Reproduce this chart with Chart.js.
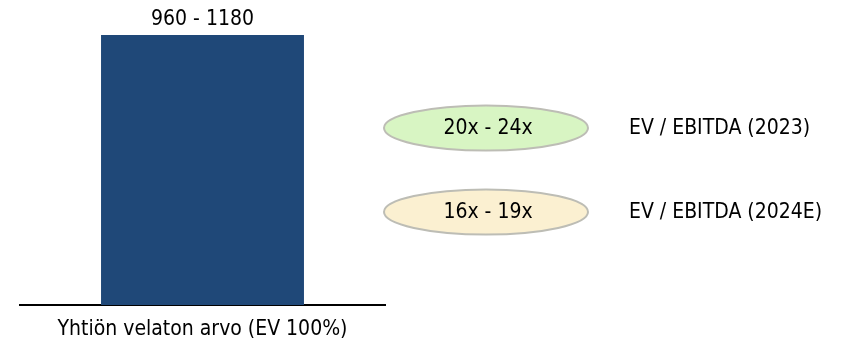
<!DOCTYPE html>
<html>
<head>
<meta charset="utf-8">
<script src="https://cdn.jsdelivr.net/npm/chart.js@4/dist/chart.umd.min.js"></script>
<style>
  html, body { margin: 0; padding: 0; background: #fff; }
  #wrap { width: 845px; height: 339px; position: relative; }
</style>
</head>
<body>
<div id="wrap"><canvas id="evChart"></canvas></div>
<script>
// ---- data ----
const categories = ['Yhtiön velaton arvo (EV 100%)'];
const evValues = [1180];
const evRangeLabels = ['960 - 1180'];

const multipleLabels = ['20x - 24x', '16x - 19x'];
const multipleNames = ['EV / EBITDA (2023)', 'EV / EBITDA (2024E)'];
const multipleColors = ['#d8f5c3', '#fbf0d1'];

const FONT = '"DejaVu Sans Condensed", "DejaVu Sans", Verdana, sans-serif';
const FONT_SIZE = 21;

// value label on top of the bar + the multiple ellipses on the right
const overlayPlugin = {
    id: 'overlay',
    afterDatasetsDraw(chart) {
        const ctx = chart.ctx;
        const area = chart.chartArea;
        const meta = chart.getDatasetMeta(0);

        ctx.save();
        ctx.fillStyle = '#000';
        ctx.font = FONT_SIZE + 'px ' + FONT;
        ctx.textAlign = 'center';
        ctx.textBaseline = 'middle';
        meta.data.forEach((bar, i) => {
            ctx.fillText(evRangeLabels[i], bar.x, bar.y - 15);
        });

        // ellipses
        const cx = area.right + 101;
        const rows = [area.top + 93, area.top + 177];
        multipleLabels.forEach((txt, i) => {
            const cy = rows[i];
            ctx.beginPath();
            ctx.ellipse(cx, cy, 102, 22.5, 0, 0, Math.PI * 2);
            ctx.fillStyle = multipleColors[i];
            ctx.fill();
            ctx.lineWidth = 2;
            ctx.strokeStyle = '#bdbdb5';
            ctx.stroke();

            ctx.fillStyle = '#000';
            ctx.textAlign = 'center';
            ctx.textBaseline = 'middle';
            ctx.fillText(txt, cx + 2, cy + 1);

            ctx.textAlign = 'left';
            ctx.fillText(multipleNames[i], area.right + 244, cy + 1);
        });
        ctx.restore();
    }
};

const ctx = document.getElementById('evChart').getContext('2d');
new Chart(ctx, {
    type: 'bar',
    data: {
        labels: categories,
        datasets: [{
            data: evValues,
            backgroundColor: '#1f4878',
            borderWidth: 0,
            barPercentage: 0.556,
            categoryPercentage: 1.0
        }]
    },
    options: {
        responsive: true,
        maintainAspectRatio: false,
        animation: false,
        layout: {
            padding: { left: 20, right: 460, top: 35, bottom: 0 }
        },
        plugins: {
            legend: { display: false },
            tooltip: { enabled: false }
        },
        scales: {
            x: {
                grid: { display: false, drawTicks: false },
                border: { display: true, color: '#000', width: 2 },
                ticks: {
                    color: '#000',
                    padding: 12,
                    font: { family: FONT, size: FONT_SIZE }
                },
                afterFit: (scale) => { scale.height = 34; }
            },
            y: {
                display: false,
                min: 0,
                max: 1180
            }
        }
    },
    plugins: [overlayPlugin]
});
</script>
</body>
</html>
